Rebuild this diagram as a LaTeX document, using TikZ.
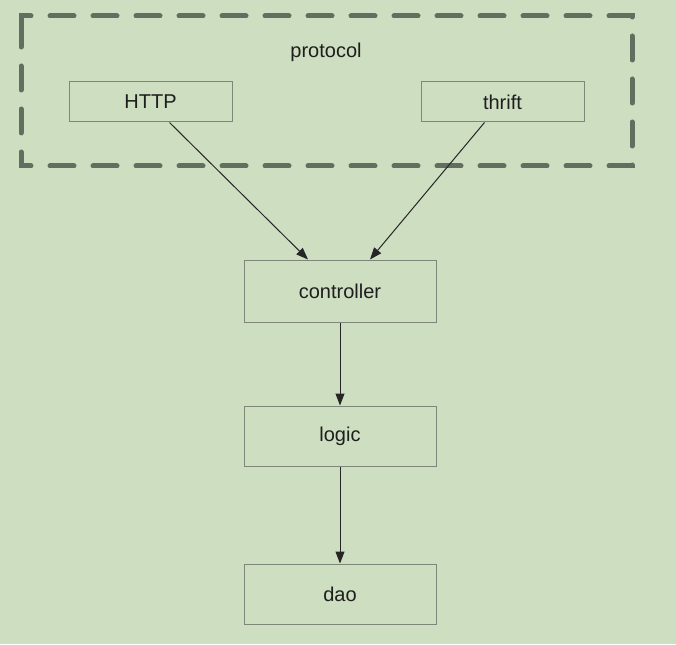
\documentclass[tikz,border=0pt]{standalone}
\usepackage{fontspec}
\setmainfont{Liberation Sans}
\usetikzlibrary{arrows.meta}
\definecolor{bg}{RGB}{205,222,193}
\definecolor{boxline}{RGB}{125,134,120}
\definecolor{dashc}{RGB}{98,110,95}
\definecolor{txt}{RGB}{30,30,30}
\tikzset{
  blk/.style={draw=boxline, line width=1pt, text=txt, font=\fontsize{20}{24}\selectfont, inner sep=0pt},
  conn/.style={draw=black!85, line width=1pt, -{Triangle[length=12pt,width=9pt]}},
  grp/.style={draw=dashc, line width=5pt, dash pattern=on 24pt off 19pt, line cap=round}
}
\begin{document}
\begin{tikzpicture}[x=1pt,y=-1pt]
\fill[bg] (0,0) rectangle (676,644);
\useasboundingbox (0,0) rectangle (676,644);
\draw[grp] (21,30) -- (21,16) -- (632,16) -- (632,166) -- (21,166) -- cycle;
\node[text=txt, font=\fontsize{20}{24}\selectfont] (proto) at (326,52) {protocol};
\node[blk, minimum width=163pt, minimum height=40pt] (http) at (150.5,102) {HTTP};
\node[blk, minimum width=163pt, minimum height=40pt] (thrift) at (502.5,102) {thrift};
\node[blk, minimum width=192pt, minimum height=62pt] (ctrl) at (340,291) {controller};
\node[blk, minimum width=192pt, minimum height=60pt] (logic) at (340,436) {logic};
\node[blk, minimum width=192pt, minimum height=60pt] (dao) at (340,594) {dao};
\draw[conn] (http.south) ++(19,0) coordinate (h1) (h1) -- (ctrl.north -| 308,0);
\draw[conn] (thrift.south) ++(-18,0) coordinate (t1) (t1) -- (ctrl.north -| 370,0);
\draw[conn] (ctrl) -- (logic);
\draw[conn] (logic) -- (dao);
\end{tikzpicture}
\end{document}
